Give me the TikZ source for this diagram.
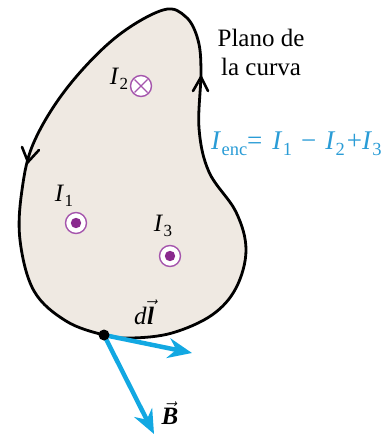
\documentclass[tikz,border=0pt]{standalone}
\usepackage{fontspec}
\setmainfont{Liberation Serif}
\usetikzlibrary{arrows.meta,calc}
\definecolor{beige}{HTML}{EFE9E2}
\definecolor{purpc}{HTML}{A555AD}
\definecolor{purpd}{HTML}{8A2A8E}
\definecolor{vecblue}{HTML}{12A8E2}
\definecolor{formblue}{HTML}{2A9CD6}
\newcommand\Isub[1]{\textit{I}\kern0.3pt\raisebox{-0.45ex}{\fontsize{17}{17}\selectfont #1}}
\newcommand\Isubb[1]{\textit{I}\kern0.3pt\raisebox{-0.45ex}{\fontsize{18.5}{18.5}\selectfont #1}}
\tikzset{
  lbl/.style={font=\fontsize{25}{29}\selectfont, inner sep=0pt},
  outc/.style={circle, draw=purpc, line width=1.4pt, fill=white, minimum size=21pt, inner sep=0pt},
  vecarrow/.style={vecblue, line width=4.5pt, -{Stealth[length=24pt, width=20pt, inset=8pt]}},
  chev/.style={line width=2.6pt, line cap=round, line join=miter},
}
\begin{document}
\begin{tikzpicture}[x=1pt,y=-1pt]
\useasboundingbox (0,0) rectangle (390,435);
% loop
\draw[line width=2.8pt, fill=beige] plot[smooth cycle, tension=0.6] coordinates {
 (163,10) (186,17) (198,40) (201,72) (199,128) (209,172) (236,212) (246,250) (236,288)
 (212,315) (172,333) (132,338) (104,335) (66,321) (34,291) (20,240) (22,190)
 (34,142) (67,88) (115,38)};
% direction marks
\draw[chev] (193,91) -- (201,77) -- (208,91);
\draw[chev] (22,147) -- (28,162) -- (39,150);
% currents
\node[outc] (c2) at (141,86) {};
\draw[purpc, line width=1.4pt] ($(c2)+(-6.5,-6.5)$) -- ($(c2)+(6.5,6.5)$);
\draw[purpc, line width=1.4pt] ($(c2)+(-6.5,6.5)$) -- ($(c2)+(6.5,-6.5)$);
\node[outc] (c1) at (76,223) {};
\fill[purpd] (c1) circle (5.2);
\node[outc] (c3) at (170,256) {};
\fill[purpd] (c3) circle (5.2);
\node[lbl] (l2) at (119,79) {\Isub{2}};
\node[lbl] (l1) at (64,196) {\Isub{1}};
\node[lbl] (l3) at (163,226) {\Isub{3}};
% text
\node[lbl, align=center] (plano) at (261,52) {Plano de\\la curva};
\node[lbl, anchor=west, text=formblue, font=\fontsize{27}{30}\selectfont] (form) at (211,144) {\Isubb{enc}=\kern10pt\Isubb{1}\kern9pt−\kern9pt\Isubb{2}\kern2pt+\Isubb{3}};
% vectors
\coordinate (P) at (104,335);
\coordinate (dlend) at (192,353);
\coordinate (Bend) at (154,434);
\draw[vecarrow] (P) -- (dlend);
\draw[vecarrow] (P) -- (Bend);
\fill (P) circle (5.5);
\node[lbl] (dl) at (144,312) {\textit{d}\kern0.5pt$\vec{\hbox{\bfseries\itshape l}}$};
\node[lbl] (B) at (170,413) {$\vec{\hbox{\bfseries\itshape B}}$};
\end{tikzpicture}
\end{document}
